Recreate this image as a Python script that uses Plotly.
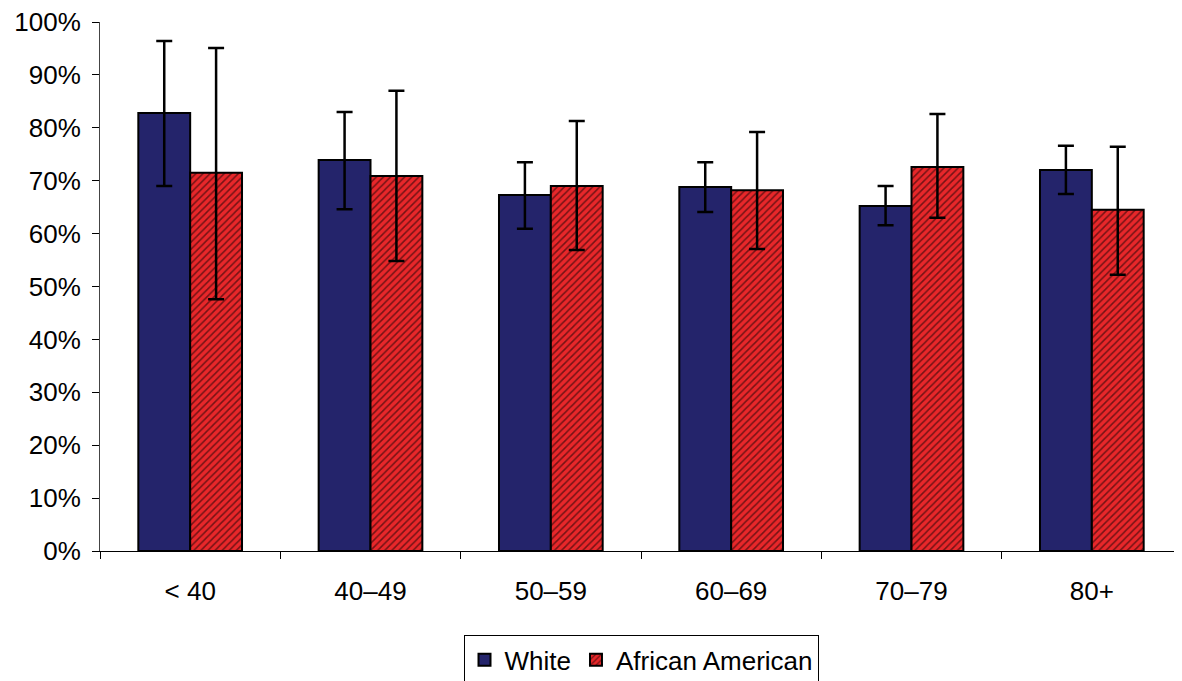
import plotly.graph_objects as go

categories = ["< 40", "40–49", "50–59", "60–69", "70–79", "80+"]
white = [82.8, 73.9, 67.3, 68.8, 65.2, 72.0]
white_hi = [96.4, 83.0, 73.5, 73.5, 69.0, 76.6]
white_lo = [69.0, 64.6, 60.9, 64.1, 61.6, 67.5]
aa = [71.5, 70.9, 69.0, 68.2, 72.6, 64.5]
aa_hi = [95.1, 87.0, 81.3, 79.2, 82.6, 76.4]
aa_lo = [47.6, 54.8, 56.9, 57.1, 63.0, 52.2]

def err(v, hi, lo):
    return dict(type="data", symmetric=False,
                array=[h - x for h, x in zip(hi, v)],
                arrayminus=[x - l for l, x in zip(lo, v)],
                color="black", thickness=2.5, width=8)

fig = go.Figure()
fig.add_trace(go.Bar(
    x=categories, y=white, name="White",
    marker=dict(color="#24246B", line=dict(color="black", width=2)),
    error_y=err(white, white_hi, white_lo),
))
fig.add_trace(go.Bar(
    x=categories, y=aa, name="African American",
    marker=dict(color="#E8272A", line=dict(color="black", width=2),
                pattern=dict(shape="/", fgcolor="black", bgcolor="#E8272A",
                             size=5, solidity=0.3)),
    error_y=err(aa, aa_hi, aa_lo),
))

fig.update_layout(
    width=1174, height=673,
    margin=dict(l=92, r=0, t=14, b=130, autoexpand=False),
    paper_bgcolor="white", plot_bgcolor="white",
    barmode="group", bargap=0.425, bargroupgap=0,
    font=dict(family="Liberation Sans, Arial", size=26, color="black"),
    showlegend=True,
    legend=dict(orientation="h", x=0.5, xanchor="center",
                yref="container", y=0.068, yanchor="top",
                bordercolor="black", borderwidth=1, font=dict(size=26),
                itemsizing="constant", traceorder="normal"),
    xaxis=dict(showline=True, linecolor="black", linewidth=1,
               ticks="outside", tickson="boundaries", ticklen=7, tickcolor="black",
               showgrid=False, ticklabelstandoff=17),
    yaxis=dict(range=[0, 100], dtick=10, ticksuffix="%",
               showline=True, linecolor="#444", linewidth=1,
               ticks="outside", ticklen=7, tickcolor="black",
               showgrid=False, zeroline=False, ticklabelstandoff=6,
               ticklabeloverflow="allow"),
)

fig.write_html("out.html")
